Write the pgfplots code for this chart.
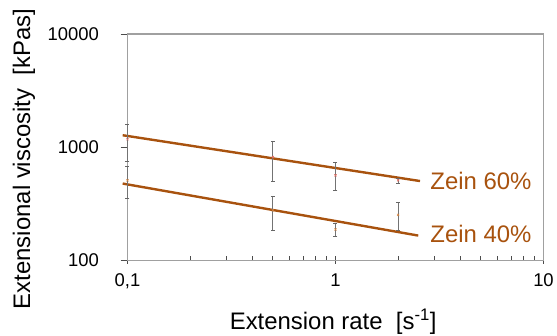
\documentclass[border=0pt]{standalone}
\usepackage{fontspec}
\setmainfont{Liberation Sans}
\usepackage{pgfplots}
\pgfplotsset{compat=1.18}
\definecolor{zbrown}{RGB}{168,82,14}
\definecolor{zred}{RGB}{224,110,100}
\definecolor{zorange}{RGB}{215,130,60}
\definecolor{axgray}{RGB}{160,160,160}
\begin{document}
\begin{tikzpicture}
\begin{axis}[
  name=a,
  scale only axis,
  width=416bp, height=226.5bp,
  xmode=log, ymode=log,
  xmin=0.1, xmax=10, ymin=100, ymax=10000,
  axis line style={axgray, line width=1.1bp},
  every tick/.style={black!70, line width=0.8bp},
  xtick={0.1,1,10}, xticklabels={{0,1},1,10},
  ytick={100,1000,10000}, yticklabels={100,1000,10000},
  ytick pos=left, xtick pos=bottom,
  ytick align=outside,
  xtick align=center,
  major tick length=7bp,
  minor tick length=5bp,
  minor x tick style={yshift=2.5bp},
  minor y tick num=0,
  yminorticks=false,
  clip=false,
  tick label style={font=\fontsize{18.5}{22}\selectfont},
  xticklabel style={yshift=-6bp},
  yticklabel style={xshift=-18bp},
  xlabel={Extension rate\ \ [s\textsuperscript{-1}]},
  ylabel={Extensional viscosity\ \ [kPas]},
  every axis x label/.style={at={(axis description cs:0.4945,-0.269)}, anchor=center, font=\fontsize{24}{28}\selectfont},
  every axis y label/.style={at={(axis description cs:-0.249,0.448)}, anchor=center, rotate=90, font=\fontsize{24}{28}\selectfont},
]
% fit lines
\addplot[zbrown, line width=2.4bp] coordinates {(0.0948,1277) (2.55,503)};
\addplot[zbrown, line width=2.4bp] coordinates {(0.0948,478) (2.5,166)};
% data with error bars
\addplot[only marks, mark=x, mark size=1.5bp, mark options={zred, line width=0.6bp},
  error bars/.cd, y dir=both, y explicit,
  error bar style={black!55, line width=0.9bp},
  error mark options={rotate=90, mark size=2bp, black!60, line width=0.9bp}]
  coordinates {
  (0.1,1178) += (0,411) -= (0,426)
  (0.5,820) += (0,310) -= (0,317)
  (1,565) += (0,162) -= (0,146)
  (2,511) += (0,21) -= (0,31)
  };
\addplot[only marks, mark=x, mark size=1.5bp, mark options={zorange, line width=0.6bp},
  error bars/.cd, y dir=both, y explicit,
  error bar style={black!55, line width=0.9bp},
  error mark options={rotate=90, mark size=2bp, black!60, line width=0.9bp}]
  coordinates {
  (0.1,511) += (0,169) -= (0,155)
  (0.5,277) += (0,94) -= (0,93)
  (1,188) += (0,23) -= (0,25)
  (2,253) += (0,75) -= (0,69)
  };
\node[anchor=west, inner sep=0pt, text=zbrown, font=\fontsize{24}{28}\selectfont] at (axis cs:2.854,500) {Zein 60\%};
\node[anchor=west, inner sep=0pt, text=zbrown, font=\fontsize{24}{28}\selectfont] at (axis cs:2.854,170) {Zein 40\%};
\end{axis}
\pgfresetboundingbox
\path ([xshift=-127.5bp,yshift=-75.5bp]a.south west) rectangle ([xshift=13.5bp,yshift=34bp]a.north east);
\end{tikzpicture}
\end{document}
